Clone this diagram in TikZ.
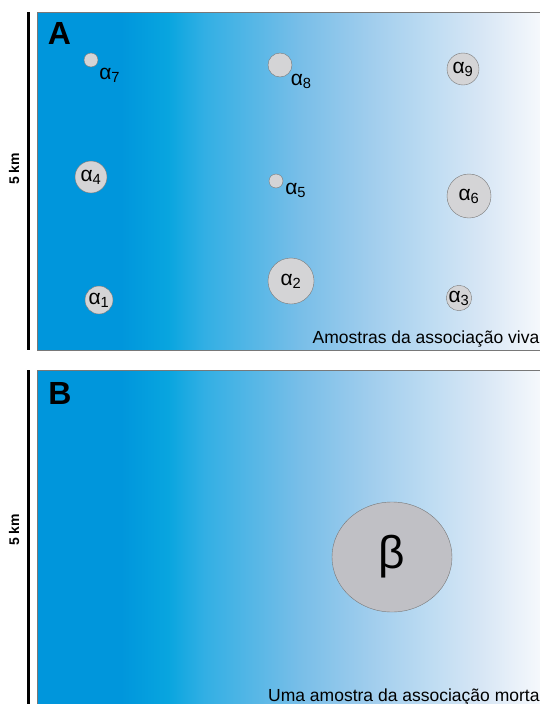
\documentclass[tikz,border=0pt]{standalone}
\usepackage{fontspec}
\setmainfont{Liberation Sans}
\usepackage{tikz}
\usetikzlibrary{positioning,shapes.geometric}
\definecolor{seablue}{RGB}{0,150,220}
\definecolor{fadeA}{RGB}{8,165,223}
\definecolor{fadeB}{RGB}{50,175,228}
\definecolor{fadeC}{RGB}{120,190,232}
\definecolor{fadeD}{RGB}{160,205,237}
\definecolor{fadeE}{RGB}{190,220,242}
\definecolor{fadeF}{RGB}{215,230,245}
\definecolor{fadeG}{RGB}{245,248,252}
\definecolor{shellgray}{RGB}{212,212,214}
\definecolor{bigshell}{RGB}{192,192,197}
\definecolor{rimgray}{RGB}{120,120,120}
\pgfdeclarehorizontalshading{seafade}{100bp}{color(0bp)=(seablue); color(33bp)=(seablue);
  color(37.5bp)=(fadeA); color(41bp)=(fadeB); color(50.1bp)=(fadeC); color(56.8bp)=(fadeD);
  color(62.6bp)=(fadeE); color(67.4bp)=(fadeF); color(73bp)=(fadeG); color(75bp)=(white); color(100bp)=(white)}

\begin{document}
\begin{tikzpicture}[x=1pt,y=-1pt,
  shell/.style={circle,draw=rimgray,fill=shellgray,inner sep=0pt,font=\fontsize{21}{21}\selectfont},
  tag/.style={inner sep=0pt,font=\fontsize{21}{21}\selectfont},
  panelname/.style={inner sep=0pt,font=\fontsize{32}{32}\selectfont\bfseries},
  scalebar/.style={line width=3pt},
  kmtag/.style={rotate=90,inner sep=0pt,font=\fontsize{14}{14}\selectfont\bfseries},
  caption/.style={inner sep=0pt,font=\fontsize{17.5}{17.5}\selectfont}]

\useasboundingbox (0,0) rectangle (539,704);

% painel A
\shade[shading=seafade,draw=rimgray,line width=0.8pt] (37,12) rectangle (560,350);
\draw[scalebar] (28,12) -- (28,350);
\node[kmtag] (kmA) at (14,169) {5 km};
\node[panelname] (nameA) at (59.5,33.5) {A};

\node[shell,minimum size=14pt] (a7) at (91,60) {};
\node[tag,below right=3pt and 3pt of a7] (t7) {α\textsubscript{7}};
\node[shell,minimum size=24pt] (a8) at (280,65) {};
\node[tag,below right=0pt and 2pt of a8] (t8) {α\textsubscript{8}};
\node[shell,minimum size=32pt] (a9) at (463,69) {α\textsubscript{9}};

\node[shell,minimum size=32pt] (a4) at (91,177) {α\textsubscript{4}};
\node[shell,minimum size=14pt] (a5) at (276,181) {};
\node[tag,below right=-3pt and 4pt of a5] (t5) {α\textsubscript{5}};
\node[shell,minimum size=44pt] (a6) at (469,196) {α\textsubscript{6}};

\node[shell,minimum size=28pt] (a1) at (99,300) {α\textsubscript{1}};
\node[shell,minimum size=46pt] (a2) at (291,281) {α\textsubscript{2}};
\node[shell,minimum size=24pt] (a3) at (459,298) {α\textsubscript{3}};

\node[caption,anchor=base east] (viva) at (539.5,343) {Amostras da associação viva};

% painel B
\shade[shading=seafade,draw=rimgray,line width=0.8pt] (37,370) rectangle (560,720);
\draw[scalebar] (28,370) -- (28,704);
\node[kmtag] (kmB) at (14,530) {5 km};
\node[panelname] (nameB) at (60,393.5) {B};

\node[ellipse,draw=rimgray,fill=bigshell,minimum width=120pt,minimum height=110pt,
  font=\fontsize{46}{46}\selectfont] (beta) at (392,557) {β};

\node[caption,anchor=base west] (morta) at (268,701) {Uma amostra da associação morta};
\end{tikzpicture}
\end{document}
